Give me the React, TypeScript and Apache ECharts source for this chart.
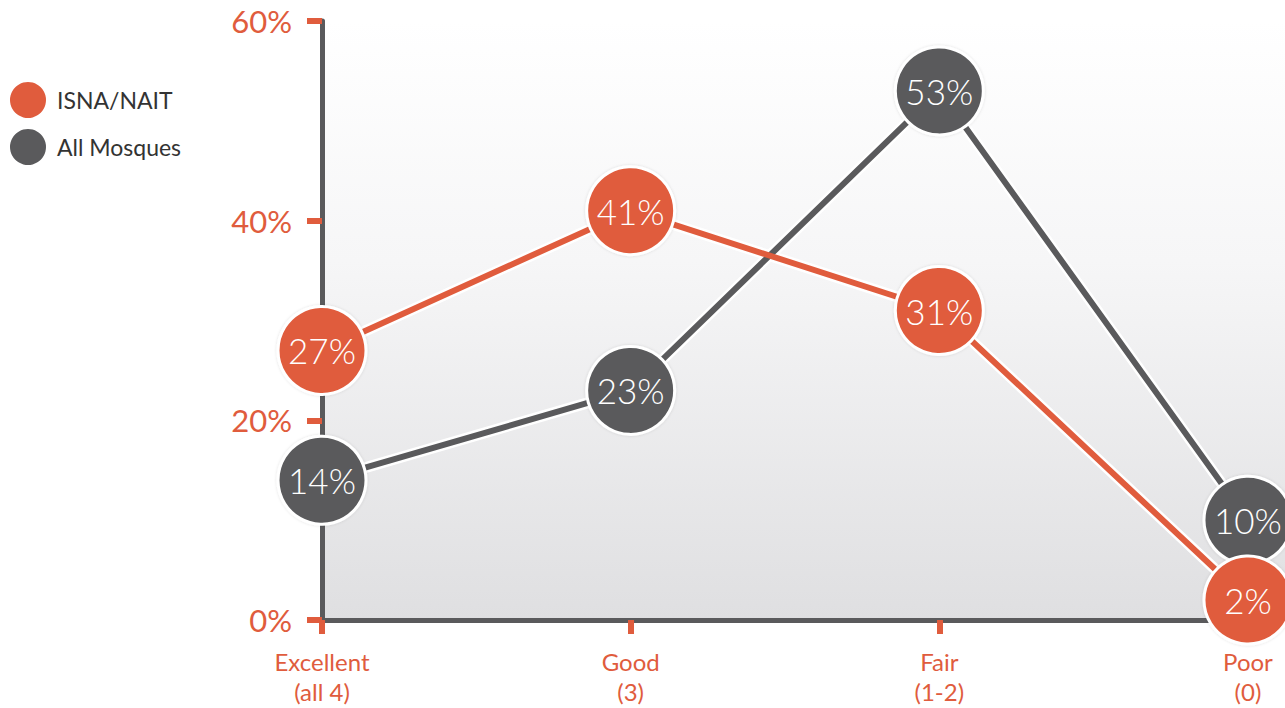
import React, { useEffect, useRef } from "react";
import * as echarts from "echarts";

const categories = ["Excellent\n(all 4)", "Good\n(3)", "Fair\n(1-2)", "Poor\n(0)"];
const isnaValues = [27, 41, 31, 2];
const allValues = [14, 23, 53, 10];
const yTicks = [0, 20, 40, 60];

const ORANGE = "#e05c3d";
const DARK = "#5a5a5c";
const FONT = "Lato, 'Open Sans', sans-serif";

export default function App() {
  const ref = useRef<HTMLDivElement>(null);
  useEffect(() => {
    if (!ref.current) return;
    const chart = echarts.init(ref.current, null, { renderer: "svg" });
    const toPts = (arr: number[]) => arr.map((v, i) => [i, v]);
    const outline = (name: string, arr: number[]) => ({
      type: "line",
      name: name + "-outline",
      data: toPts(arr),
      showSymbol: false,
      symbol: "none",
      clip: false,
      silent: true,
      lineStyle: { color: "#ffffff", width: 11 },
      z: 2,
    });
    const main = (name: string, arr: number[], color: string) => ({
      type: "line",
      name,
      data: toPts(arr),
      clip: false,
      symbol: "circle",
      symbolSize: 88,
      itemStyle: { color, borderColor: "#ffffff", borderWidth: 3, shadowColor: "rgba(0,0,0,0.12)", shadowBlur: 3 },
      lineStyle: { color, width: 6 },
      label: {
        show: true,
        position: "inside",
        color: "#ffffff",
        fontFamily: FONT,
        fontWeight: 300,
        fontSize: 35,
        formatter: (p: any) => p.value[1] + "%",
      },
      z: 3,
    });
    chart.setOption({
      animation: false,
      backgroundColor: "#ffffff",
      legend: {
        data: ["ISNA/NAIT", "All Mosques"],
        orient: "vertical",
        left: 10,
        top: 82,
        padding: 0,
        icon: "circle",
        itemWidth: 36,
        itemHeight: 36,
        itemGap: 11,
        itemStyle: { borderWidth: 0, shadowBlur: 0 },
        textStyle: { color: "#333333", fontSize: 23, fontFamily: FONT, padding: [0, 0, 0, 6] },
        selectedMode: false,
      },
      grid: {
        left: 322,
        right: 0,
        top: 21,
        bottom: 88,
        show: true,
        borderWidth: 0,
        backgroundColor: new echarts.graphic.LinearGradient(0, 0, 0, 1, [
          { offset: 0, color: "#ffffff" },
          { offset: 0.4, color: "#f6f6f7" },
          { offset: 1, color: "#dfdfe1" },
        ]),
      },
      xAxis: {
        type: "value",
        min: 0,
        max: 3.12,
        interval: 1,
        splitLine: { show: false },
        axisLine: { show: true, lineStyle: { color: DARK, width: 5 } },
        axisTick: { show: true, customValues: [0, 1, 2, 3], length: 14, lineStyle: { color: ORANGE, width: 6 } },
        axisLabel: {
          customValues: [0, 1, 2, 3],
          formatter: (v: number) => categories[Math.round(v)] ?? "",
          color: ORANGE,
          fontFamily: FONT,
          fontSize: 24,
          lineHeight: 30,
          margin: 26,
        },
      },
      yAxis: {
        type: "value",
        min: 0,
        max: 60,
        interval: 20,
        splitLine: { show: false },
        axisLine: { show: true, lineStyle: { color: DARK, width: 5 } },
        axisTick: { show: true, customValues: yTicks, length: 15, lineStyle: { color: ORANGE, width: 6 } },
        axisLabel: {
          customValues: yTicks,
          formatter: "{value}%",
          color: ORANGE,
          fontFamily: FONT,
          fontSize: 31,
          margin: 30,
        },
      },
      series: [
        outline("All Mosques", allValues),
        main("All Mosques", allValues, DARK),
        outline("ISNA/NAIT", isnaValues),
        main("ISNA/NAIT", isnaValues, ORANGE),
      ],
    });
    return () => chart.dispose();
  }, []);
  return <div ref={ref} style={{ position: "absolute", left: 0, top: 0, width: 1285, height: 708 }} />;
}
